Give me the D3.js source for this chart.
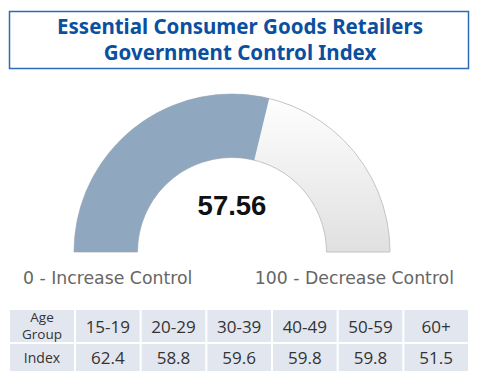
<!DOCTYPE html>
<html><head><meta charset="utf-8">
<script src="https://cdn.jsdelivr.net/npm/d3@7"></script>
<style>html,body{margin:0;padding:0;background:#fff;}svg{display:block;}</style>
</head><body>
<script>
const titleLines = ["Essential Consumer Goods Retailers", "Government Control Index"];
const gaugeValue = 57.56;
const gaugeMin = 0, gaugeMax = 100;
const minLabel = "0 - Increase Control";
const maxLabel = "100 - Decrease Control";
const ageGroups = ["15-19", "20-29", "30-39", "40-49", "50-59", "60+"];
const indexValues = [62.4, 58.8, 59.6, 59.8, 59.8, 51.5];

const W = 479, H = 383;
const svg = d3.select("body").append("svg").attr("width", W).attr("height", H);

// Title box
svg.append("rect").attr("x", 9.5).attr("y", 11.5).attr("width", 459).attr("height", 57)
  .attr("fill", "#fff").attr("stroke", "#2e6bb8").attr("stroke-width", 1.5);
svg.selectAll("text.title").data(titleLines).join("text").attr("class", "title")
  .attr("x", 240).attr("y", (d, i) => 34 + i * 26)
  .attr("text-anchor", "middle").attr("font-family", "Noto Sans, sans-serif")
  .attr("font-weight", "bold").attr("font-size", 20.5).attr("fill", "#0b4f9f")
  .text(d => d);

// Gauge
const cx = 232, cy = 252, rOut = 158, rIn = 94.5;
const angle = d3.scaleLinear().domain([gaugeMin, gaugeMax]).range([-Math.PI / 2, Math.PI / 2]);
const arc = d3.arc().innerRadius(rIn).outerRadius(rOut);
const defs = svg.append("defs");
const grad = defs.append("linearGradient").attr("id", "bgGrad")
  .attr("gradientUnits", "userSpaceOnUse").attr("x1", 0).attr("y1", -rOut).attr("x2", 0).attr("y2", 0);
grad.append("stop").attr("offset", "0%").attr("stop-color", "#ffffff");
grad.append("stop").attr("offset", "100%").attr("stop-color", "#e0e0e0");
const g = svg.append("g").attr("transform", `translate(${cx},${cy})`);
g.append("path").attr("d", arc({startAngle: angle(gaugeMin), endAngle: angle(gaugeMax)}))
  .attr("fill", "url(#bgGrad)").attr("stroke", "#c4c4c4").attr("stroke-width", 1);
g.append("path").attr("d", arc({startAngle: angle(gaugeMin), endAngle: angle(gaugeValue)}))
  .attr("fill", "#8fa8bf");
g.append("text").attr("x", 0).attr("y", 215 - cy).attr("text-anchor", "middle")
  .attr("font-family", "Liberation Sans, Arial, sans-serif").attr("font-weight", "bold")
  .attr("font-size", 27.5).attr("fill", "#111").text(gaugeValue.toFixed(2));

svg.append("text").attr("x", 23).attr("y", 284).attr("font-family", "DejaVu Sans, sans-serif")
  .attr("font-size", 17.3).attr("fill", "#666").text(minLabel);
svg.append("text").attr("x", 454).attr("y", 284).attr("text-anchor", "end").attr("font-family", "DejaVu Sans, sans-serif")
  .attr("font-size", 17.3).attr("fill", "#666").text(maxLabel);

// Table
const tx0 = 10, tx1 = 469, colW0 = 64;
const xCol = d3.scaleBand().domain(ageGroups).range([tx0 + colW0 + 1, tx1]).paddingInner(0);
const rows = [{y: 310, h: 32}, {y: 344, h: 27}];
const cellFill = "#e2e6ef";
rows.forEach(r => {
  svg.append("rect").attr("x", tx0).attr("y", r.y).attr("width", colW0).attr("height", r.h).attr("fill", cellFill);
  svg.selectAll(null).data(ageGroups).join("rect")
    .attr("x", d => xCol(d) + 1).attr("y", r.y).attr("width", xCol.bandwidth() - 2).attr("height", r.h).attr("fill", cellFill);
});
const tfont = "Open Sans, Noto Sans, sans-serif";
const hdr = svg.append("text").attr("text-anchor", "middle")
  .attr("font-family", tfont).attr("font-size", 13.5).attr("fill", "#333");
hdr.append("tspan").attr("x", tx0 + colW0 / 2).attr("y", 322).text("Age");
hdr.append("tspan").attr("x", tx0 + colW0 / 2).attr("y", 339).text("Group");
svg.append("text").attr("x", tx0 + colW0 / 2).attr("y", 363).attr("text-anchor", "middle")
  .attr("font-family", tfont).attr("font-size", 14).attr("fill", "#333").text("Index");
svg.selectAll("text.age").data(ageGroups).join("text").attr("class", "age")
  .attr("x", d => xCol(d) + xCol.bandwidth() / 2).attr("y", 333).attr("text-anchor", "middle")
  .attr("font-family", tfont).attr("font-size", 17).attr("fill", "#333").text(d => d);
svg.selectAll("text.idx").data(indexValues).join("text").attr("class", "idx")
  .attr("x", (d, i) => xCol(ageGroups[i]) + xCol.bandwidth() / 2).attr("y", 364).attr("text-anchor", "middle")
  .attr("font-family", tfont).attr("font-size", 17).attr("fill", "#333").text(d => d.toFixed(1));
</script>
</body></html>
